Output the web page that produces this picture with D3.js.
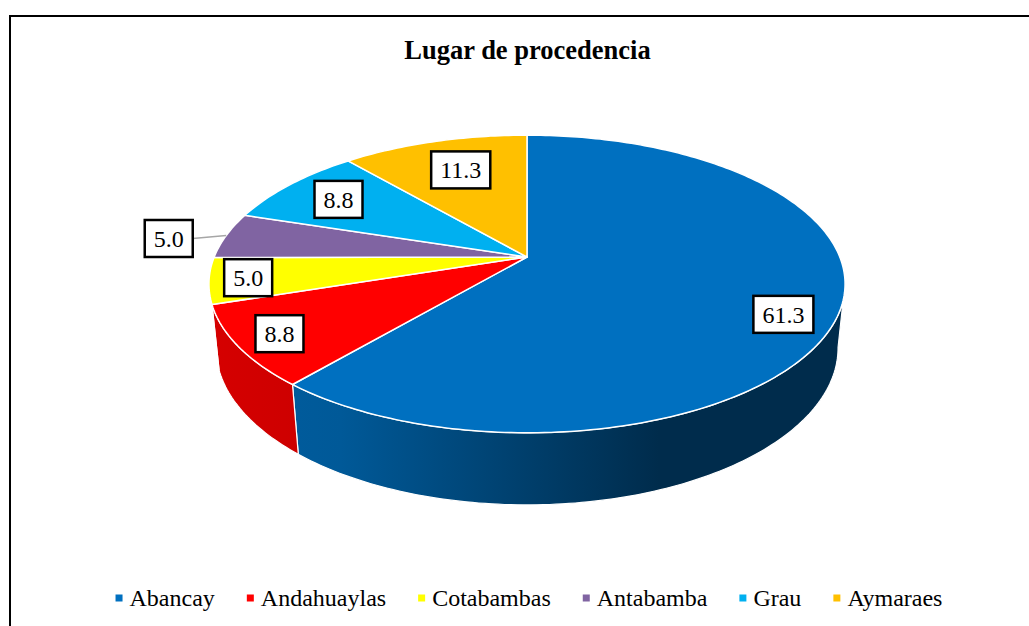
<!DOCTYPE html>
<html>
<head>
<meta charset="utf-8">
<title>Lugar de procedencia</title>
<style>
  body { margin: 0; background: #fff; }
  svg { display: block; }
  svg text { font-family: 'Liberation Serif', 'Times New Roman', Times, serif; }
</style>
</head>
<body>
<div id="chart"></div>
<script src="https://d3js.org/d3.v7.min.js"></script>
<script>
// data
var categories = ['Abancay', 'Andahuaylas', 'Cotabambas', 'Antabamba', 'Grau', 'Aymaraes'];
var values = [61.3, 8.8, 5.0, 5.0, 8.8, 11.3];
var colors = ['#0070C0', '#FF0000', '#FFFF00', '#8064A2', '#00B0F0', '#FFC000'];

// label placement: radius (fraction of pie radius) and angle nudge in degrees
var labelRadius = [0.85, 0.87, 0.88, 1.18, 0.78, 0.72];
var labelNudge = [5.8, 0, 0, -2.4, 0, 1];

var width = 1029, height = 626;
var cx = 527, cy = 257;       // screen point of the pie centre
var S = 312.8;                // pie radius in px
var tilt = 27.4 * Math.PI / 180;
var focal = 4.9;              // perspective distance (in radii)
var depth = 0.232;            // pie thickness (in radii)
var sideFrom = 100, sideTo = 252;
var serif = "'Liberation Serif', 'Times New Roman', Times, serif";

var svg = d3.select('#chart').append('svg')
    .attr('width', width)
    .attr('height', height);

// frame
svg.append('path')
    .attr('d', 'M10,' + (height + 5) + 'L10,16L' + (width + 5) + ',16')
    .attr('fill', 'none')
    .attr('stroke', '#000')
    .attr('stroke-width', 2);

svg.append('text')
    .attr('x', 527.5)
    .attr('y', 59)
    .attr('text-anchor', 'middle')
    .attr('font-family', serif)
    .attr('font-weight', 'bold')
    .attr('font-size', 26.5)
    .text('Lugar de procedencia');

// angle in degrees, clockwise from 12 o'clock; r fraction of radius; y = 0 top, -depth bottom
function project(deg, r, Y) {
  var t = deg * Math.PI / 180;
  var u = r * Math.sin(t), v = -r * Math.cos(t);
  var ys = -Y * Math.cos(tilt) + v * Math.sin(tilt);
  var zc = v * Math.cos(tilt) + Y * Math.sin(tilt);
  var k = focal / (focal - zc);
  return [cx + S * u * k, cy + S * ys * k];
}

function arcPoints(a0, a1, r, Y) {
  var pts = [];
  var n = Math.max(2, Math.ceil(Math.abs(a1 - a0) / 1));
  for (var i = 0; i <= n; i++) {
    pts.push(project(a0 + (a1 - a0) * i / n, r, Y));
  }
  return pts;
}

var pie = d3.pie().sort(null).value(function(d) { return d; });
var arcs = pie(values).map(function(d, i) {
  return {
    value: d.value,
    i: i,
    a0: d.startAngle * 180 / Math.PI,
    a1: d.endAngle * 180 / Math.PI
  };
});

var line = d3.line();
var defs = svg.append('defs');

// side shading
var leftX = project(-90, 1, 0)[0], rightX = project(90, 1, 0)[0];
arcs.forEach(function(d) {
  var g = defs.append('linearGradient')
      .attr('id', 'side' + d.i)
      .attr('gradientUnits', 'userSpaceOnUse')
      .attr('x1', leftX).attr('x2', rightX + 10)
      .attr('y1', 0).attr('y2', 0);
  [[0, 0.5], [0.2, 0.65], [0.7, 2.6], [1, 2.6]].forEach(function(s) {
    g.append('stop')
      .attr('offset', s[0])
      .attr('stop-color', d3.color(colors[d.i]).darker(s[1]).formatHex());
  });
});

var sides = svg.append('g');
arcs.forEach(function(d) {
  var a0 = Math.max(d.a0, sideFrom), a1 = Math.min(d.a1, sideTo);
  if (a1 <= a0) return;
  var pts = arcPoints(a0, a1, 1, 0).concat(arcPoints(a1, a0, 1, -depth));
  sides.append('path')
      .attr('d', line(pts) + 'Z')
      .attr('fill', 'url(#side' + d.i + ')')
      .attr('stroke', '#fff')
      .attr('stroke-width', 1.2)
      .attr('stroke-linejoin', 'round');
});

var topFace = svg.append('g');
arcs.forEach(function(d) {
  var pts = [project(0, 0, 0)].concat(arcPoints(d.a0, d.a1, 1, 0));
  topFace.append('path')
      .attr('d', line(pts) + 'Z')
      .attr('fill', colors[d.i])
      .attr('stroke', '#fff')
      .attr('stroke-width', 1.5)
      .attr('stroke-linejoin', 'round');
});

// data labels
var fmt = d3.format('.1f');
var labels = svg.append('g');

arcs.forEach(function(d) {
  var mid = (d.a0 + d.a1) / 2;
  var p = project(mid + labelNudge[d.i], labelRadius[d.i], 0);
  var g = labels.append('g').attr('transform', 'translate(' + p[0] + ',' + p[1] + ')');
  var rect = g.append('rect');
  var t = g.append('text')
      .attr('text-anchor', 'middle')
      .attr('y', 8.5)
      .attr('font-family', serif)
      .attr('font-size', 24)
      .text(fmt(d.value));
  var w = t.node().getComputedTextLength() + 18, h = 37;
  rect.attr('x', -w / 2).attr('y', -h / 2)
      .attr('width', w).attr('height', h)
      .attr('fill', '#fff')
      .attr('stroke', '#000')
      .attr('stroke-width', 2.5);
  if (labelRadius[d.i] > 1) {
    var e = project(mid, 1, 0);
    labels.insert('line', ':first-child')
        .attr('x1', p[0] + w / 2).attr('y1', p[1])
        .attr('x2', e[0]).attr('y2', e[1])
        .attr('stroke', '#A6A6A6')
        .attr('stroke-width', 1.5);
  }
});

// legend
var legend = svg.append('g');
var items = categories.map(function(c, i) {
  var g = legend.append('g');
  g.append('rect')
      .attr('x', 0).attr('y', -11.5)
      .attr('width', 7).attr('height', 7)
      .attr('fill', colors[i]);
  var t = g.append('text')
      .attr('x', 14).attr('y', 0)
      .attr('font-family', serif)
      .attr('font-size', 24)
      .text(c);
  return { g: g, w: 14 + t.node().getComputedTextLength() };
});
var gap = 32;
var total = d3.sum(items, function(d) { return d.w; }) + gap * (items.length - 1);
var x = 529 - total / 2;
items.forEach(function(d) {
  d.g.attr('transform', 'translate(' + x + ',606)');
  x += d.w + gap;
});
</script>
</body>
</html>
